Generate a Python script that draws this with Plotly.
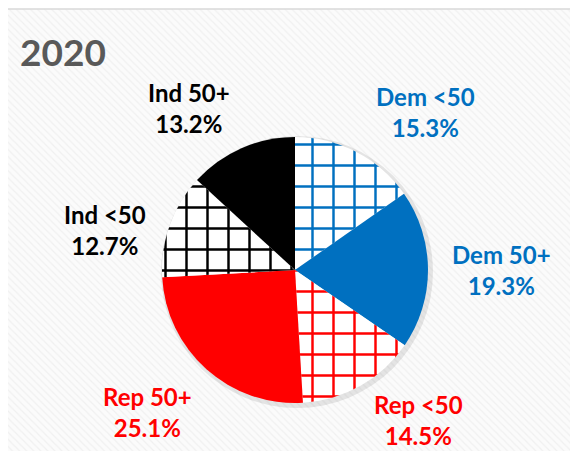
import plotly.graph_objects as go

title_text = "2020"
categories = ["Dem <50", "Dem 50+", "Rep <50", "Rep 50+", "Ind <50", "Ind 50+"]
values = [15.3, 19.3, 14.5, 25.1, 12.7, 13.2]
pct_labels = ["15.3%", "19.3%", "14.5%", "25.1%", "12.7%", "13.2%"]

BLUE = "#0070C0"
RED = "#FF0000"
BLACK = "#000000"
slice_colors = ["white", BLUE, "white", RED, "white", BLACK]
pattern_fg = [BLUE, BLUE, RED, RED, BLACK, BLACK]
pattern_shapes = ["+", "", "+", "", "+", ""]
label_colors = [BLUE, BLUE, RED, RED, BLACK, BLACK]
# label centre positions in page pixels (x, y from top)
label_pos = [(425, 112), (501, 270), (418, 420), (147, 412), (105, 230), (189, 108)]

PAGE_W, PAGE_H = 578, 451
OFF = 8  # page body margin
W, H = PAGE_W - OFF, PAGE_H - OFF
FONT = "Lato"


def px(x):
    return (x - OFF) / W


def py(y):
    return 1 - (y - OFF) / H


fig = go.Figure()

# striped chart-area background (axis units = page pixels)
fig.add_trace(go.Scatter(
    x=[6, 575, 575, 6, 6], y=[9, 9, 470, 470, 9],
    fill="toself", mode="lines",
    line=dict(color="#d9d9d9", width=1.5),
    fillcolor="#fbfbfb",
    fillpattern=dict(shape="\\", size=5, solidity=0.25, fgcolor="#e6e6e6", bgcolor="#fbfbfb"),
    hoverinfo="skip", showlegend=False,
))

cx0, cx1 = px(162), px(428)
cy0, cy1 = py(403), py(137)

# soft shadow
fig.add_trace(go.Pie(
    values=[1], labels=["shadow"], sort=False, textinfo="none", hoverinfo="skip",
    marker=dict(colors=["rgba(0,0,0,0.09)"], line=dict(width=0)),
    domain=dict(x=[cx0 - 1 / W, cx1 + 5 / W], y=[cy0 - 5 / H, cy1 + 1 / H]),
    showlegend=False,
))

fig.add_trace(go.Pie(
    labels=categories, values=values, sort=False, direction="clockwise", rotation=0,
    textinfo="none", hoverinfo="label+percent",
    marker=dict(colors=slice_colors, line=dict(width=0),
                pattern=dict(shape=pattern_shapes, fgcolor=pattern_fg, fgopacity=1,
                             size=21, solidity=0.22, fillmode="replace")),
    domain=dict(x=[cx0, cx1], y=[cy0, cy1]),
    showlegend=False,
))

annotations = [dict(
    x=px(18), y=py(51), xref="paper", yref="paper", xanchor="left", yanchor="middle",
    text=f"<b>{title_text}</b>", showarrow=False,
    font=dict(family=FONT, size=37, color="#595959"))]
for cat, pct, col, (lx, ly) in zip(categories, pct_labels, label_colors, label_pos):
    annotations.append(dict(
        x=px(lx), y=py(ly), xref="paper", yref="paper", xanchor="center", yanchor="middle",
        text=f"<b>{cat}</b><br><b>{pct}</b>", showarrow=False, align="center",
        font=dict(family=FONT, size=24, color=col)))

fig.update_layout(
    width=W, height=H, margin=dict(l=0, r=0, t=0, b=0),
    paper_bgcolor="white", plot_bgcolor="rgba(0,0,0,0)",
    xaxis=dict(range=[OFF, PAGE_W], visible=False, fixedrange=True),
    yaxis=dict(range=[PAGE_H, OFF], visible=False, fixedrange=True),
    annotations=annotations,
)

fig.write_html("out.html")
